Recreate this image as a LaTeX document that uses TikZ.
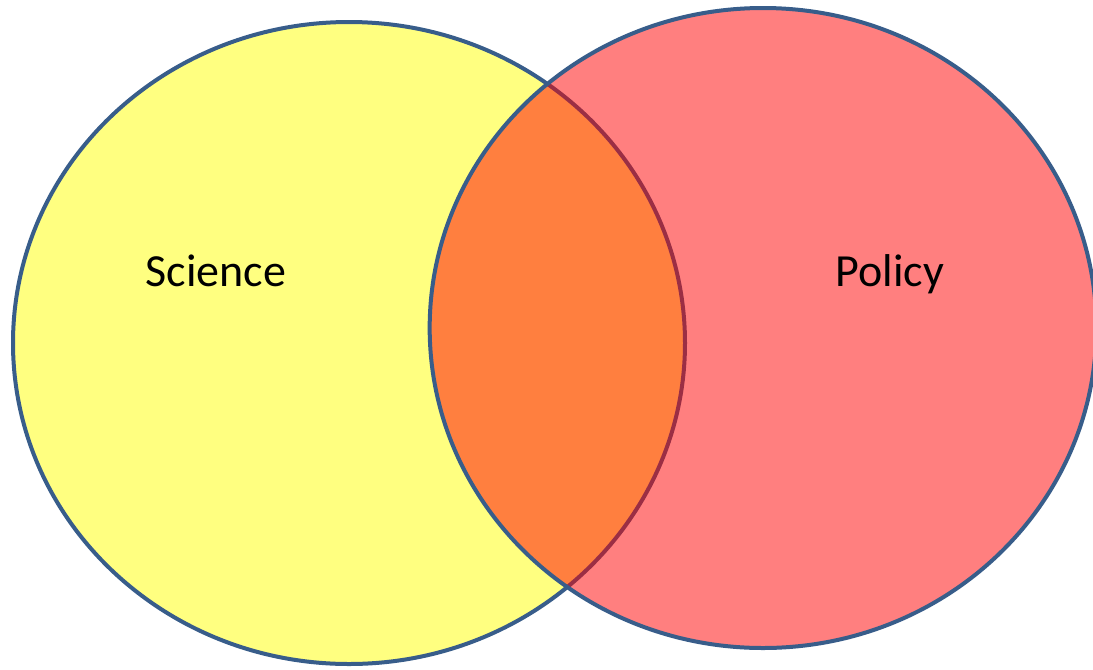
\documentclass[tikz,border=0pt]{standalone}
\usepackage{fontspec}
\setmainfont{Carlito}
\usepackage{tikz}
\usetikzlibrary{positioning}
\definecolor{setyellow}{RGB}{255,255,128}
\definecolor{setred}{RGB}{255,0,0}
\definecolor{setedge}{RGB}{56,93,138}

\begin{document}
\begin{tikzpicture}[x=0.75pt, y=-0.75pt,
    % ---------- estilos ----------
    lset/.style={fill=setyellow, draw=setedge, line width=3pt},
    rset/.style={fill=setred, fill opacity=0.5, draw=setedge,
      draw opacity=1, line width=3pt},
    lbl/.style={font=\fontsize{34.5}{40}\selectfont, text=black,
      anchor=base, inner sep=0pt}
]

% ====== Marco ======
\useasboundingbox (0,0) rectangle (1093,669);

% ====== Conjuntos ======
\draw[lset] (349,343) ellipse [x radius=252pt, y radius=240.75pt];
\draw[rset] (763,328) ellipse [x radius=250pt, y radius=240pt];

% ====== Etiquetas ======
\node[lbl] (science) at (216,286) {Science};
\node[lbl] (policy) at (890,286) {Policy};

\end{tikzpicture}
\end{document}
